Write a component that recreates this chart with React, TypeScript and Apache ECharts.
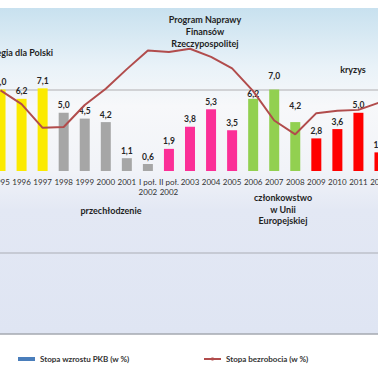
import React, { useEffect, useRef } from "react";
import * as echarts from "echarts";

const categories = [
  "1995", "1996", "1997", "1998", "1999", "2000", "2001",
  "I poł.\n2002", "II poł.\n2002", "2003", "2004", "2005",
  "2006", "2007", "2008", "2009", "2010", "2011", "2012",
];
const gdpGrowth = [7.0, 6.2, 7.1, 5.0, 4.5, 4.2, 1.1, 0.6, 1.9, 3.8, 5.3, 3.5, 6.2, 7.0, 4.2, 2.8, 3.6, 5.0, 1.6];
const unemployment = [14.9, 13.2, 10.3, 10.4, 13.1, 15.1, 17.5, 19.8, 19.6, 20.0, 19.0, 17.6, 14.8, 11.2, 9.5, 12.1, 12.4, 12.5, 13.4];
const periodColors = [
  "#fbea00", "#fbea00", "#fbea00",
  "#a6a6a6", "#a6a6a6", "#a6a6a6", "#a6a6a6", "#a6a6a6",
  "#fb2f97", "#fb2f97", "#fb2f97", "#fb2f97",
  "#92d050", "#92d050", "#92d050",
  "#ff0000", "#ff0000", "#ff0000", "#ff0000",
];
const labelDistances = [3, 3, 3, 3, 3, 3, 3, 3, 3, 3, 3, 3, 0, 9, 12, 3, 3, 3, 3];
const seriesNames = ["Stopa wzrostu PKB (w %)", "Stopa bezrobocia (w %)"];

const FONT = "Lato, 'Open Sans', sans-serif";
const GRID_TOP = 8;
const GRID_BOTTOM = 36;
const CHART_H = 370;

export default function App() {
  const ref = useRef<HTMLDivElement>(null);
  useEffect(() => {
    if (!ref.current) return;
    const chart = echarts.init(ref.current, null, { renderer: "svg" });
    // half of the plot height: moves the category axis up to the value 0 line (middle of -14..14)
    const zeroOffset = -(CHART_H - GRID_TOP - GRID_BOTTOM) / 2;
    const annot = (text: string, x: number, y: number, align: string = "center", lh = 12) => ({
      type: "text",
      x,
      y,
      z: 100,
      style: {
        text,
        fill: "#1f1f1f",
        font: `bold 9px ${FONT}`,
        align,
        verticalAlign: "middle",
        lineHeight: lh,
      },
    });
    chart.setOption({
      animation: false,
      backgroundColor: "#ffffff",
      textStyle: { fontFamily: FONT },
      grid: {
        left: -10,
        right: -12,
        top: GRID_TOP,
        bottom: GRID_BOTTOM,
        show: true,
        borderWidth: 0,
        outerBoundsMode: "none",
        containLabel: false,
        backgroundColor: new echarts.graphic.LinearGradient(0, 0, 0, 1, [
          { offset: 0, color: "#c8e1ef" },
          { offset: 0.18, color: "#e9f2f8" },
          { offset: 0.3, color: "#f7f8fa" },
          { offset: 0.5, color: "#f1f3f8" },
          { offset: 0.62, color: "#e3e8f4" },
          { offset: 1, color: "#dfe5f3" },
        ]),
      },
      legend: [
        {
          data: [seriesNames[0]],
          left: 13,
          top: 350,
          itemWidth: 17,
          itemHeight: 4,
          icon: "rect",
          textStyle: { fontSize: 8, fontWeight: "bold", color: "#333", fontFamily: FONT },
        },
        {
          data: [seriesNames[1]],
          left: 198,
          top: 350,
          itemWidth: 17,
          itemHeight: 4,
          textStyle: { fontSize: 8, fontWeight: "bold", color: "#333", fontFamily: FONT },
        },
      ],
      xAxis: {
        type: "category",
        data: categories,
        boundaryGap: true,
        position: "bottom",
        offset: zeroOffset,
        axisLine: { show: false, onZero: false },
        axisTick: { show: false },
        axisLabel: {
          interval: 0,
          fontSize: 8,
          color: "#333",
          margin: 6,
          lineHeight: 10,
          fontFamily: FONT,
        },
      },
      yAxis: [
        {
          type: "value",
          min: -14,
          max: 14,
          interval: 7,
          axisLabel: { show: false },
          axisLine: { show: false },
          axisTick: { show: false },
          splitLine: {
            show: true,
            lineStyle: {
              width: 1.5,
              color: ["#a4a8b0", "#bcc0ca", "rgba(0,0,0,0)", "#c6c6c8", "rgba(0,0,0,0)"],
            },
          },
        },
        {
          type: "value",
          min: -15,
          max: 25,
          show: false,
          splitLine: { show: false },
        },
      ],
      series: [
        {
          name: seriesNames[0],
          type: "bar",
          barWidth: 10,
          itemStyle: { color: "#4a7ebb" },
          data: gdpGrowth.map((v, i) => ({
            value: v,
            itemStyle: { color: periodColors[i] },
            label: { distance: labelDistances[i] },
          })),
          label: {
            show: true,
            position: "top",
            fontSize: 8.5,
            fontWeight: "bold",
            color: "#262626",
            fontFamily: FONT,
            formatter: (p: any) => Number(p.value).toFixed(1).replace(".", ","),
          },
          z: 2,
        },
        {
          name: seriesNames[1],
          type: "line",
          yAxisIndex: 1,
          data: unemployment,
          symbol: "none",
          showSymbol: false,
          lineStyle: { color: "#b14c4c", width: 2 },
          itemStyle: { color: "#b14c4c" },
          z: 5,
        },
      ],
      graphic: [
        annot("Strategia dla Polski", 53, 52, "right"),
        annot("Program Naprawy\nFinansów\nRzeczypospolitej", 205, 31, "center", 12),
        annot("kryzys", 353, 69),
        annot("przechłodzenie", 111, 210),
        annot("członkowstwo\nw Unii\nEuropejskiej", 283, 209, "center", 11.5),
      ],
    });
    return () => chart.dispose();
  }, []);
  return (
    <div
      ref={ref}
      style={{ position: "fixed", left: 0, top: 0, width: 378, height: 370, overflow: "hidden" }}
    />
  );
}
